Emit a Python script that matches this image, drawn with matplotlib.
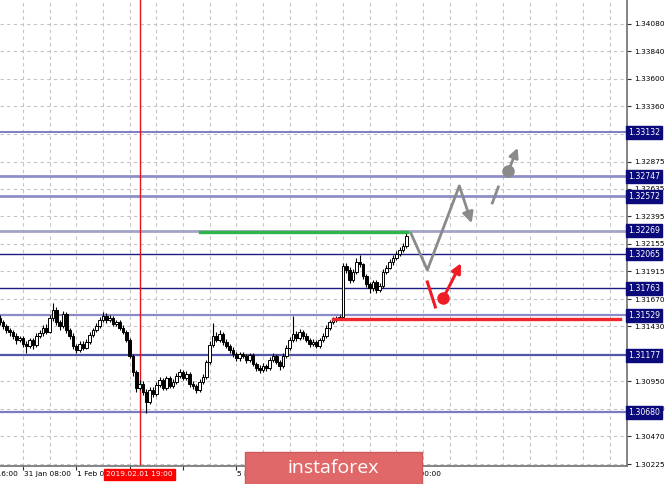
import matplotlib
matplotlib.use('Agg')
import matplotlib.pyplot as plt
from matplotlib.patches import Rectangle
import numpy as np

# H1 candles, x = trading hours counted from 31 Jan 08:00
FIRST_HOUR = -7
OPENS = [
    1.31504, 1.31469, 1.31434, 1.31399, 1.31382, 1.31347, 1.31311, 1.31329, 1.31276, 1.31259,
    1.31311, 1.31268, 1.31347, 1.31373, 1.31417, 1.31382, 1.31504, 1.31574, 1.31469, 1.31434,
    1.31539, 1.31399, 1.31347, 1.31259, 1.31224, 1.31276, 1.31242, 1.31294, 1.31355, 1.31399,
    1.31434, 1.31487, 1.31522, 1.31487, 1.31504, 1.31452, 1.31469, 1.31417, 1.31382, 1.31311,
    1.31172, 1.31031, 1.30891, 1.30926, 1.30856, 1.30768, 1.30873, 1.30838, 1.30917, 1.30961,
    1.30891, 1.30979, 1.30909, 1.30944, 1.30996, 1.31031, 1.30979, 1.31014, 1.30926, 1.30909,
    1.30873, 1.30944, 1.30987, 1.31119, 1.31268, 1.31347, 1.31311, 1.31364, 1.31294, 1.31259,
    1.31224, 1.31189, 1.31154, 1.31189, 1.31172, 1.31136, 1.31180, 1.31101, 1.31066, 1.31049,
    1.31084, 1.31066, 1.31136, 1.31172, 1.31119, 1.31084, 1.31172, 1.31242, 1.31311, 1.31364,
    1.31329, 1.31382, 1.31347, 1.31311, 1.31276, 1.31294, 1.31259, 1.31311, 1.31347, 1.31417,
    1.31469, 1.31487, 1.31504, 1.31513, 1.31960, 1.31925, 1.31837, 1.31907, 1.31995, 1.31977,
    1.31872, 1.31802, 1.31767, 1.31820, 1.31750, 1.31785, 1.31907, 1.31942, 1.31995, 1.32029,
    1.32064, 1.32100, 1.32135,
]
CLOSES = [
    1.31469, 1.31434, 1.31399, 1.31382, 1.31347, 1.31311, 1.31329, 1.31276, 1.31259, 1.31311,
    1.31268, 1.31347, 1.31373, 1.31417, 1.31382, 1.31504, 1.31574, 1.31469, 1.31434, 1.31539,
    1.31399, 1.31347, 1.31259, 1.31224, 1.31276, 1.31242, 1.31294, 1.31355, 1.31399, 1.31434,
    1.31487, 1.31522, 1.31487, 1.31504, 1.31452, 1.31469, 1.31417, 1.31382, 1.31311, 1.31172,
    1.31031, 1.30891, 1.30926, 1.30856, 1.30768, 1.30873, 1.30838, 1.30917, 1.30961, 1.30891,
    1.30979, 1.30909, 1.30944, 1.30996, 1.31031, 1.30979, 1.31014, 1.30926, 1.30909, 1.30873,
    1.30944, 1.30987, 1.31119, 1.31268, 1.31347, 1.31311, 1.31364, 1.31294, 1.31259, 1.31224,
    1.31189, 1.31154, 1.31189, 1.31172, 1.31136, 1.31180, 1.31101, 1.31066, 1.31049, 1.31084,
    1.31066, 1.31136, 1.31172, 1.31119, 1.31084, 1.31172, 1.31242, 1.31311, 1.31364, 1.31329,
    1.31382, 1.31347, 1.31311, 1.31276, 1.31294, 1.31259, 1.31311, 1.31347, 1.31417, 1.31469,
    1.31487, 1.31504, 1.31513, 1.31960, 1.31925, 1.31837, 1.31907, 1.31995, 1.31977, 1.31872,
    1.31802, 1.31767, 1.31820, 1.31750, 1.31785, 1.31907, 1.31942, 1.31995, 1.32029, 1.32064,
    1.32100, 1.32135, 1.32223,
]
HIGHS = [
    1.31530, 1.31490, 1.31450, 1.31420, 1.31400, 1.31370, 1.31350, 1.31350, 1.31300, 1.31330,
    1.31330, 1.31370, 1.31400, 1.31440, 1.31450, 1.31530, 1.31636, 1.31600, 1.31490, 1.31570,
    1.31560, 1.31420, 1.31370, 1.31280, 1.31300, 1.31300, 1.31320, 1.31380, 1.31420, 1.31460,
    1.31510, 1.31557, 1.31550, 1.31530, 1.31520, 1.31490, 1.31490, 1.31440, 1.31400, 1.31330,
    1.31190, 1.31050, 1.30960, 1.30950, 1.30880, 1.30900, 1.30900, 1.30940, 1.30990, 1.30980,
    1.31000, 1.31000, 1.30970, 1.31020, 1.31060, 1.31050, 1.31040, 1.31030, 1.30950, 1.30930,
    1.30970, 1.31010, 1.31140, 1.31300, 1.31460, 1.31380, 1.31400, 1.31380, 1.31320, 1.31280,
    1.31250, 1.31210, 1.31210, 1.31210, 1.31190, 1.31200, 1.31200, 1.31120, 1.31090, 1.31110,
    1.31100, 1.31160, 1.31200, 1.31190, 1.31140, 1.31200, 1.31270, 1.31340, 1.31522, 1.31390,
    1.31410, 1.31400, 1.31370, 1.31330, 1.31320, 1.31310, 1.31330, 1.31370, 1.31440, 1.31490,
    1.31510, 1.31520, 1.31530, 1.31990, 1.31990, 1.31950, 1.31930, 1.32030, 1.32056, 1.31990,
    1.31890, 1.31820, 1.31840, 1.31840, 1.31810, 1.31930, 1.31970, 1.32020, 1.32060, 1.32090,
    1.32130, 1.32160, 1.32260,
]
LOWS = [
    1.31440, 1.31410, 1.31370, 1.31350, 1.31320, 1.31280, 1.31290, 1.31250, 1.31200, 1.31240,
    1.31230, 1.31250, 1.31330, 1.31350, 1.31360, 1.31370, 1.31480, 1.31440, 1.31400, 1.31420,
    1.31370, 1.31320, 1.31230, 1.31200, 1.31210, 1.31220, 1.31230, 1.31280, 1.31340, 1.31380,
    1.31420, 1.31470, 1.31460, 1.31470, 1.31430, 1.31430, 1.31400, 1.31360, 1.31290, 1.31150,
    1.31000, 1.30860, 1.30870, 1.30830, 1.30672, 1.30750, 1.30810, 1.30820, 1.30900, 1.30870,
    1.30870, 1.30890, 1.30890, 1.30930, 1.30980, 1.30960, 1.30960, 1.30900, 1.30880, 1.30850,
    1.30860, 1.30930, 1.30970, 1.31100, 1.31250, 1.31290, 1.31290, 1.31270, 1.31240, 1.31200,
    1.31160, 1.31130, 1.31130, 1.31150, 1.31110, 1.31120, 1.31080, 1.31040, 1.31020, 1.31030,
    1.31040, 1.31050, 1.31120, 1.31100, 1.31050, 1.31070, 1.31150, 1.31220, 1.31290, 1.31300,
    1.31310, 1.31320, 1.31290, 1.31250, 1.31260, 1.31240, 1.31240, 1.31290, 1.31330, 1.31400,
    1.31450, 1.31470, 1.31490, 1.31500, 1.31900, 1.31810, 1.31820, 1.31890, 1.31950, 1.31850,
    1.31780, 1.31720, 1.31740, 1.31720, 1.31730, 1.31770, 1.31890, 1.31930, 1.31970, 1.32010,
    1.32050, 1.32080, 1.32120,
]

# support / resistance levels
LEVELS = [1.33132, 1.32747, 1.32572, 1.32269, 1.32065, 1.31763, 1.31529, 1.31177, 1.30680]
LEVEL_COLORS = ['#7474bf', '#8e8ec9', '#8e8ec9', '#a3a3c8', '#1c1c86', '#1c1c86',
                '#8a8ac8', '#5454ab', '#7c7cc0']
LEVEL_WIDTHS = [1.3, 2.0, 2.0, 2.0, 1.0, 1.0, 1.6, 1.6, 1.6]

PRICE_TICKS = [1.34080, 1.33840, 1.33600, 1.33360, 1.33120, 1.32875, 1.32635, 1.32395,
               1.32155, 1.31915, 1.31670, 1.31430, 1.31190, 1.30950, 1.30710, 1.30470,
               1.30225]
HIDDEN_PRICE_TICKS = [1.33120, 1.31190]

TIME_TICKS = [-16, 0, 16, 64, 112]
TIME_LABELS = ['30 Jan 16:00', '31 Jan 08:00', '1 Feb 00:00', '5 Feb 00:00', '7 Feb 00:00']
CURSOR_HOUR = 35
CURSOR_LABEL = '2019.02.01 19:00'

GREEN_LINE = ([53, 115.3], 1.32262)
RED_LINE = ([93, 179], 1.31500)

# forecast drawings (hour, price)
GRAY_ZIGZAG = [(116.2, 1.32258), (121.3, 1.31925), (130.9, 1.32662)]
GRAY_ARROW_TIP = (134.6, 1.32335)
GRAY_DASH = [(140.8, 1.32512), (142.6, 1.32652)]
GRAY_DOT = (145.6, 1.32792)
GRAY_DOT_TIP = (148.4, 1.32995)
RED_DASH = [(121.3, 1.31820), (123.7, 1.31601)]
RED_DOT = (126.1, 1.31680)
RED_DOT_TIP = (131.4, 1.31985)

GRAY = '#8a8a8a'
RED = '#ee1c25'
TICK_FONT = dict(family='DejaVu Sans', size=5.3)
BOX_FONT = dict(family='DejaVu Sans', size=5.6)


def draw():
    fig = plt.figure(figsize=(6.65, 4.84), dpi=100)
    ax = fig.add_axes([0, 18 / 484, 627 / 665, 466 / 484])
    ax.set_axisbelow(True)

    hours = np.arange(FIRST_HOUR, FIRST_HOUR + len(CLOSES))
    o = np.array(OPENS)
    c = np.array(CLOSES)
    ax.vlines(hours, LOWS, HIGHS, color='black', lw=0.8, zorder=3)
    up = c >= o
    ax.bar(hours[up], (c - o)[up], bottom=o[up], width=0.72, facecolor='white',
           edgecolor='black', lw=0.7, zorder=4)
    ax.bar(hours[~up], (o - c)[~up], bottom=c[~up], width=0.72, facecolor='black',
           edgecolor='black', lw=0.7, zorder=4)

    for lvl, col, lw in zip(LEVELS, LEVEL_COLORS, LEVEL_WIDTHS):
        ax.axhline(lvl, color=col, lw=lw, zorder=2)
        ax.text(1.002, lvl, '%.5f' % lvl, transform=ax.get_yaxis_transform(),
                color='white', ha='left', va='center', clip_on=False, zorder=6,
                bbox=dict(boxstyle='square,pad=0.25', fc='#0a0a7a', ec='#0a0a7a'),
                **BOX_FONT)

    ax.plot(GREEN_LINE[0], [GREEN_LINE[1]] * 2, color='#2fb64a', lw=2.4, zorder=5)
    ax.plot(RED_LINE[0], [RED_LINE[1]] * 2, color='#f0262b', lw=2.4, zorder=5)

    ax.axvline(CURSOR_HOUR, color='#e8141a', lw=1.0, zorder=2)

    # forecast arrows
    zx, zy = zip(*GRAY_ZIGZAG)
    ax.plot(zx, zy, color=GRAY, lw=2.0, zorder=7, solid_capstyle='butt')
    ax.annotate('', xy=GRAY_ARROW_TIP, xytext=GRAY_ZIGZAG[-1],
                arrowprops=dict(arrowstyle='-|>', color=GRAY, lw=2.0, mutation_scale=16,
                                shrinkA=0, shrinkB=0), zorder=7)
    gx, gy = zip(*GRAY_DASH)
    ax.plot(gx, gy, color=GRAY, lw=2.0, zorder=7)
    ax.plot(*GRAY_DOT, 'o', color=GRAY, ms=8, zorder=7)
    ax.annotate('', xy=GRAY_DOT_TIP, xytext=GRAY_DOT,
                arrowprops=dict(arrowstyle='-|>', color=GRAY, lw=2.0, mutation_scale=14,
                                shrinkA=0, shrinkB=0), zorder=7)
    rx, ry = zip(*RED_DASH)
    ax.plot(rx, ry, color=RED, lw=2.2, zorder=7)
    ax.plot(*RED_DOT, 'o', color=RED, ms=8, zorder=7)
    ax.annotate('', xy=RED_DOT_TIP, xytext=RED_DOT,
                arrowprops=dict(arrowstyle='-|>', color=RED, lw=2.2, mutation_scale=14,
                                shrinkA=0, shrinkB=0), zorder=7)

    # axes / ticks
    for side in ['top', 'left']:
        ax.spines[side].set_visible(False)
    for side in ['right', 'bottom']:
        ax.spines[side].set_color('#707070')
        ax.spines[side].set_linewidth(1.2)
    ax.yaxis.tick_right()
    ax.set_yticks(PRICE_TICKS)
    ax.set_yticklabels(['' if p in HIDDEN_PRICE_TICKS else '%.5f' % p for p in PRICE_TICKS],
                       **TICK_FONT)
    ax.tick_params(axis='y', length=3, width=0.8, pad=2, color='#303030')
    ax.set_xticks(np.arange(-24, 184, 8))
    ax.set_xticklabels([])
    ax.tick_params(axis='x', length=3, width=0.8, color='#303030')
    for t in ax.xaxis.get_major_ticks():
        if t.get_loc() % 16 != 0 or t.get_loc() > 112:
            t.tick1line.set_visible(False)
    ax.grid(True, color='#c4c4c4', ls=(0, (3, 3)), lw=0.8)

    ax.set_xlim(-6.9, 181.2)
    ax.set_ylim(1.30208, 1.34290)

    for h, lab in zip(TIME_TICKS, TIME_LABELS):
        ax.text(h + 0.3, -0.018, lab, transform=ax.get_xaxis_transform(), ha='left',
                va='center', clip_on=False, **TICK_FONT)
    ax.text(CURSOR_HOUR, -0.018, CURSOR_LABEL, transform=ax.get_xaxis_transform(),
            ha='center', va='center', color='white', clip_on=False, zorder=6,
            bbox=dict(boxstyle='square,pad=0.3', fc='#ff0000', ec='#ff0000'), **TICK_FONT)

    # watermark
    fig.patches.append(Rectangle((245 / 665, 0), 177 / 665, 32 / 484, transform=fig.transFigure,
                                 facecolor='#e06868', edgecolor='#d05a5a', lw=1.0, zorder=5))
    fig.text(333 / 665, 16 / 484, 'instaforex', color='white', ha='center', va='center',
             family='Open Sans', fontsize=14, zorder=6)

    fig.savefig('out.png', dpi=100)


if __name__ == '__main__':
    draw()
